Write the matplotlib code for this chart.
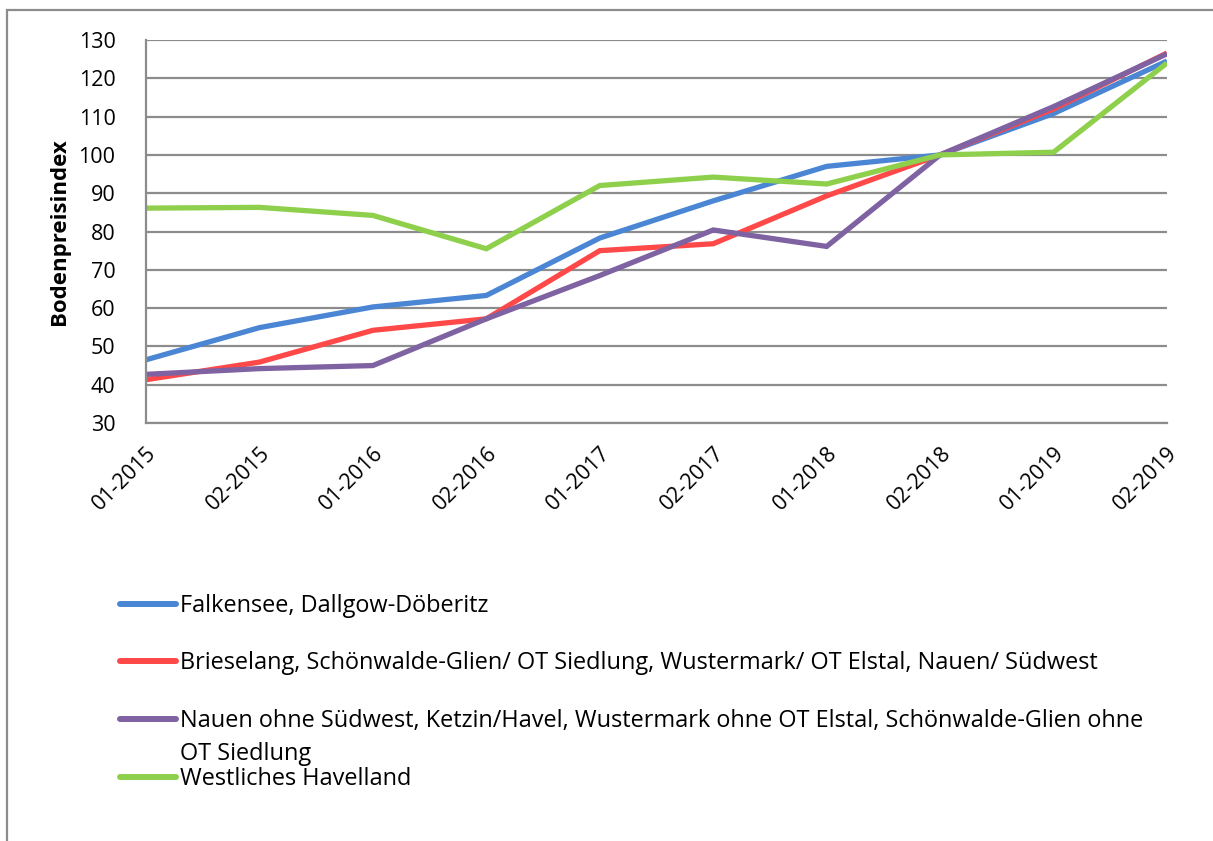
import matplotlib
matplotlib.use('Agg')
import matplotlib.pyplot as plt
from matplotlib.lines import Line2D
from matplotlib.patches import Rectangle

plt.rcParams['font.family'] = ['Open Sans', 'DejaVu Sans']

periods = ['01-2015', '02-2015', '01-2016', '02-2016', '01-2017',
           '02-2017', '01-2018', '02-2018', '01-2019', '02-2019']

falkensee = [46.5, 54.9, 60.3, 63.3, 78.3, 88.0, 97.0, 100.0, 110.8, 124.5]
brieselang = [41.3, 45.9, 54.2, 57.2, 75.0, 76.8, 89.3, 100.0, 112.0, 126.6]
nauen = [42.7, 44.2, 45.0, 57.2, 68.5, 80.4, 76.1, 100.0, 112.6, 126.4]
westlich = [86.1, 86.3, 84.2, 75.5, 92.0, 94.2, 92.4, 100.0, 100.7, 124.0]

labels = ['Falkensee, Dallgow-Döberitz',
          'Brieselang, Schönwalde-Glien/ OT Siedlung, Wustermark/ OT Elstal, Nauen/ Südwest',
          'Nauen ohne Südwest, Ketzin/Havel, Wustermark ohne OT Elstal, Schönwalde-Glien ohne\nOT Siedlung',
          'Westliches Havelland']
colors = ['#4A86D4', '#FF4848', '#7F62A2', '#8ECF4C']
series = [falkensee, brieselang, nauen, westlich]

W, H = 1213, 841
fig = plt.figure(figsize=(W/100, H/100), dpi=100)
ax = fig.add_axes([146/W, 1-423/H, (1167-146)/W, (423-40)/H])

x = range(len(periods))
for vals, c in zip(series, colors):
    ax.plot(x, vals, color=c, lw=3.8, solid_capstyle='butt', solid_joinstyle='miter')

ax.set_xlim(0, len(periods)-1)
ax.set_ylim(30, 130)
ax.set_yticks(range(30, 131, 10))
ax.set_xticks(list(x))
ax.set_xticklabels(periods, rotation=45, ha='right', rotation_mode='anchor')
ax.tick_params(axis='both', length=0, labelsize=15.5)
ax.tick_params(axis='x', pad=14)
ax.tick_params(axis='y', pad=22)
ax.grid(axis='y', color='#8c8c8c', lw=1.6)
ax.set_axisbelow(True)
for s in ['top', 'right']:
    ax.spines[s].set_visible(False)
for s in ['left', 'bottom']:
    ax.spines[s].set_color('#8c8c8c')
    ax.spines[s].set_linewidth(1.6)
ax.set_ylabel('Bodenpreisindex', fontsize=16, fontweight='bold', labelpad=6)

# outer chart border
fig.add_artist(Rectangle((7/W, -0.5), 2, 1.5-10/H, transform=fig.transFigure,
                         fill=False, edgecolor='#8c8c8c', lw=1.6))

# legend (handle sits on the first text line)
rows = [604, 661, 719, 777]
for lab, c, yy in zip(labels, colors, rows):
    fy = 1 - yy/H
    fig.add_artist(Line2D([120/W, 176/W], [fy, fy], color=c, lw=4.3,
                          transform=fig.transFigure, solid_capstyle='round'))
    for i, part in enumerate(lab.split('\n')):
        fig.text(180/W, 1 - (yy + 8 + 33*i)/H, part, fontsize=16.9, va='baseline')

fig.savefig('out.png', dpi=100)
